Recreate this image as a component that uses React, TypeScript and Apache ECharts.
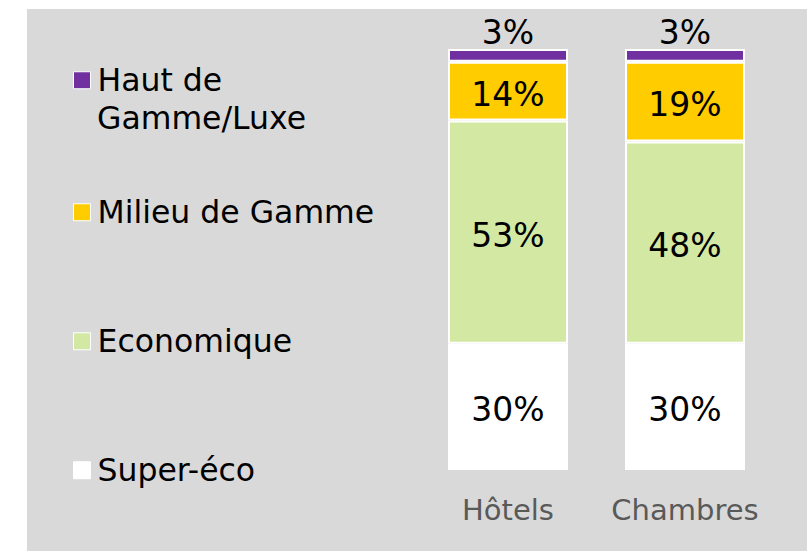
import React, { useEffect, useRef } from "react";
import * as echarts from "echarts";

const categories = ["Hôtels", "Chambres"];
const seriesNames = ["Super-éco", "Economique", "Milieu de Gamme", "Haut de Gamme/Luxe"];
const superEco = [30, 30];
const economique = [53, 48];
const milieu = [14, 19];
const hautDeGamme = [3, 3];
const colors = ["#ffffff", "#d3e9a3", "#ffcc00", "#7030a0"];

export default function App() {
  const ref = useRef<HTMLDivElement>(null);
  useEffect(() => {
    if (!ref.current) return;
    const chart = echarts.init(ref.current, null, { renderer: "svg" });
    const font = "DejaVu Sans";
    const legendFs = 31.5;
    const values = [superEco, economique, milieu, hautDeGamme];
    const legendCenters = [470, 341, 212, 80];
    const legends = seriesNames.map((name, i) => ({
      data: [name],
      orient: "vertical" as const,
      left: 73,
      top: legendCenters[i] - legendFs / 2,
      padding: 0,
      itemWidth: 17,
      itemHeight: 17,
      icon: "rect",
      itemStyle: { borderColor: "#ffffff", borderWidth: 1 },
      textStyle: { fontFamily: font, fontSize: legendFs, color: "#000000", padding: [0, 0, 0, 2] },
      formatter: (n: string) => (n === "Haut de Gamme/Luxe" ? "Haut de" : n),
      selectedMode: false,
    }));
    chart.setOption({
      animation: false,
      backgroundColor: "#ffffff",
      textStyle: { fontFamily: font },
      graphic: [
        {
          type: "rect",
          z: -10,
          silent: true,
          shape: { x: 27, y: 9, width: 780, height: 542 },
          style: { fill: "#d9d9d9" },
        },
        {
          type: "text",
          x: 97,
          y: 118,
          style: {
            text: "Gamme/Luxe",
            font: `${legendFs}px "${font}"`,
            fill: "#000000",
            verticalAlign: "middle",
            align: "left",
          },
        },
      ],
      legend: legends,
      grid: { left: 419.5, right: 33.5, top: 49, bottom: 81, containLabel: false },
      xAxis: {
        type: "category",
        data: categories,
        axisLine: { show: false },
        axisTick: { show: false },
        axisLabel: { color: "#595959", fontSize: 29, fontFamily: font, margin: 25, interval: 0 },
      },
      yAxis: {
        type: "value",
        min: 0,
        max: 100,
        show: false,
        splitLine: { show: false },
      },
      series: seriesNames.map((name, i) => ({
        name,
        type: "bar",
        stack: "total",
        barWidth: 120,
        data: values[i],
        itemStyle: { color: colors[i], borderColor: "#ffffff", borderWidth: 2 },
        label: {
          show: true,
          position: i === 3 ? "top" : "inside",
          distance: 3,
          offset: [0, 3],
          formatter: "{c}%",
          color: "#000000",
          fontSize: 33,
          fontFamily: font,
        },
      })),
    });
    return () => chart.dispose();
  }, []);
  return (
    <div
      ref={ref}
      style={{ position: "fixed", left: 0, top: 0, width: 807, height: 551 }}
    />
  );
}
